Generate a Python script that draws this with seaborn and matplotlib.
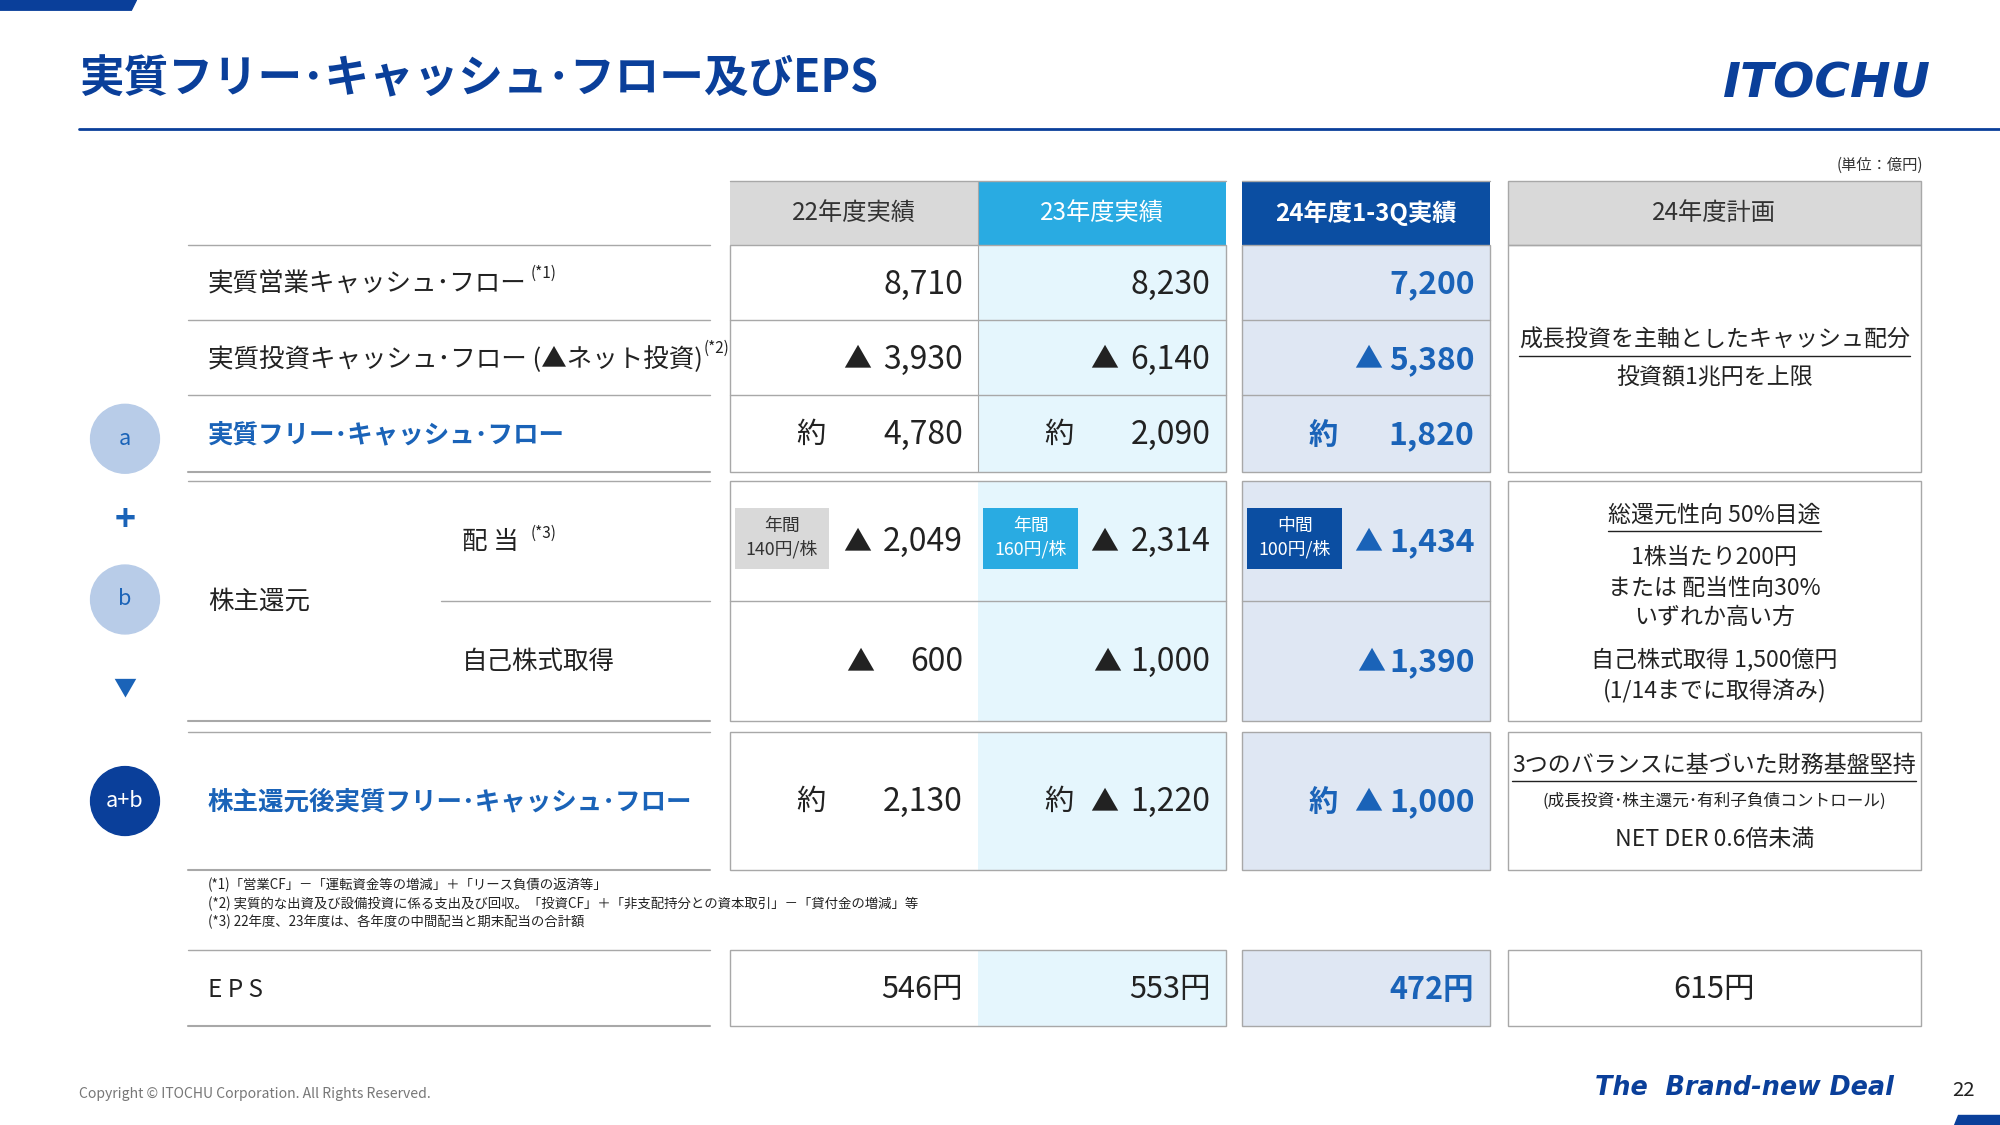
import matplotlib
matplotlib.use("Agg")
import matplotlib.pyplot as plt
from matplotlib.patches import Rectangle, Circle, Polygon
import seaborn as sns

sns.set_theme(style="white", font="Noto Sans CJK JP")

# ---------------- data ----------------
columns = ["22年度実績", "23年度実績", "24年度1-3Q実績"]
plan_header = "24年度計画"
op_cf = ["8,710", "8,230", "7,200"]
inv_cf = ["3,930", "6,140", "5,380"]
free_cf = ["4,780", "2,090", "1,820"]
dividend = ["2,049", "2,314", "1,434"]
div_tag_top = ["年間", "年間", "中間"]
div_tag_bot = ["140円/株", "160円/株", "100円/株"]
buyback = ["600", "1,000", "1,390"]
after_cf = ["2,130", "1,220", "1,000"]
after_neg = [False, True, True]
eps = ["546円", "553円", "472円"]
eps_plan = "615円"
row_labels = ["実質営業キャッシュ･フロー", "実質投資キャッシュ･フロー (▲ネット投資)", "実質フリー･キャッシュ･フロー"]
footnotes = ["(*1)「営業CF」－「運転資金等の増減」＋「リース負債の返済等」",
             "(*2) 実質的な出資及び設備投資に係る支出及び回収。「投資CF」＋「非支配持分との資本取引」－「貸付金の増減」等",
             "(*3) 22年度、23年度は、各年度の中間配当と期末配当の合計額"]

# ---------------- styling ----------------
W, H = 1568, 882
def fs(px): return px * 2000 / W * 0.72
NAVY = "#0a3f9a"
BLUE = "#1a63b8"
COLHDR = ["#d9d9d9", "#29abe2", "#0b4ea2"]
COLBG = ["#ffffff", "#e5f6fd", "#dfe7f3"]
HDRTXT = ["#333333", "#ffffff", "#ffffff"]
VALTXT = ["#222222", "#222222", BLUE]
TAGBG = ["#d9d9d9", "#29abe2", "#0b4ea2"]
TAGTXT = ["#333333", "#ffffff", "#ffffff"]
GRID = "#a8a8a8"

fig = plt.figure(figsize=(20, 11.25), dpi=100)
ax = fig.add_axes([0, 0, 1, 1])
ax.set_xlim(0, W); ax.set_ylim(H, 0); ax.axis("off")
renderer = fig.canvas.get_renderer()

def T(x, y, s, size, color="#222222", ha="left", weight="normal", **kw):
    return ax.text(x, y, s, fontsize=fs(size), color=color, ha=ha, va="center", fontweight=weight, **kw)

def right_end(t):
    bb = t.get_window_extent(renderer)
    return bb.x1 * W / 2000

def R(x0, y0, x1, y1, fc, ec="none", lw=1):
    ax.add_patch(Rectangle((x0, y0), x1 - x0, y1 - y0, facecolor=fc, edgecolor=ec, lw=lw))

# header decorations
ax.add_patch(Polygon([(0, 0), (107, 0), (103, 8), (0, 8)], color=NAVY))
ax.add_patch(Polygon([(1535, 874), (1568, 874), (1568, 882), (1532, 882)], color=NAVY))
T(62, 62, "実質フリー･キャッシュ･フロー及びEPS", 35, NAVY, weight="bold")
ax.plot([62, 1568], [101, 101], color=NAVY, lw=2)
T(1432, 66, "ITOCHU", 38, NAVY, ha="center", weight="heavy", style="italic", family="DejaVu Sans")
T(1508, 130, "(単位：億円)", 12, "#333333", ha="right")

colx = [(572, 767), (767, 961), (974, 1168)]
plan = (1182, 1506)
blocks = [(192, 370), (377, 565), (574, 682), (745, 804)]

for i, (x0, x1) in enumerate(colx):
    R(x0, 142, x1, 192, COLHDR[i])
    T((x0 + x1) / 2, 167, columns[i], 19, HDRTXT[i], ha="center", weight="bold" if i == 2 else "normal")
    for (y0, y1) in blocks:
        R(x0, y0, x1, y1, COLBG[i])
R(plan[0], 142, plan[1], 192, "#d9d9d9")
T((plan[0] + plan[1]) / 2, 167, plan_header, 19, "#333333", ha="center")

for (y0, y1) in blocks:
    for (x0, x1) in [(572, 961), (974, 1168), plan]:
        R(x0, y0, x1, y1, "none", GRID, 1)
for (x0, x1) in [(572, 961), (974, 1168)]:
    for y in [251, 310, 471]:
        ax.plot([x0, x1], [y, y], color=GRID, lw=1)
    ax.plot([x0, x1], [142, 142], color=GRID, lw=1)
ax.plot([767, 767], [142, 370], color=GRID, lw=0.8)
R(plan[0], 142, plan[1], 192, "none", GRID)
for y in [192, 251, 310, 370, 377, 565, 574, 682, 745, 804]:
    ax.plot([147, 557], [y, y], color=GRID, lw=1.5 if y in (370, 565, 682, 804) else 1)
ax.plot([346, 557], [471, 471], color=GRID, lw=1)

TRI = "▲"
t = T(163, 223, row_labels[0], 20)
T(right_end(t) + 3, 214, "(*1)", 12)
t = T(163, 282, row_labels[1], 20)
T(right_end(t) + 1, 273, "(*2)", 12)
T(163, 341, row_labels[2], 20, BLUE, weight="bold")
T(163, 472, "株主還元", 20)
T(362, 425, "配 当", 20)
T(416, 418, "(*3)", 12)
T(362, 519, "自己株式取得", 20)
T(163, 629, "株主還元後実質フリー･キャッシュ･フロー", 20, BLUE, weight="bold")
T(163, 776, "E P S", 19)

for y, lbl, fc, tc in [(344, "a", "#b8cce8", BLUE), (470, "b", "#b8cce8", BLUE), (628, "a+b", NAVY, "white")]:
    ax.add_patch(Circle((98, y), 27, color=fc))
    T(98, y, lbl, 17, tc, ha="center")
T(98, 408, "+", 28, BLUE, ha="center", weight="bold")
T(98, 540, "▼", 18, BLUE, ha="center")

for i, (x0, x1) in enumerate(colx):
    c = VALTXT[i]; w = "bold" if i == 2 else "normal"
    xr = x1 - 12
    T(xr, 223, op_cf[i], 25, c, ha="right", weight=w)
    T(xr, 282, inv_cf[i], 25, c, ha="right", weight=w)
    T(xr - 72, 282, TRI, 22, c, ha="right")
    T(x0 + 52, 341, "約", 23, c, weight=w)
    T(xr, 341, free_cf[i], 25, c, ha="right", weight=w)
    R(x0 + 4, 398, x0 + 78, 446, TAGBG[i])
    T(x0 + 41, 412, div_tag_top[i], 14, TAGTXT[i], ha="center")
    T(x0 + 41, 431, div_tag_bot[i], 14, TAGTXT[i], ha="center")
    T(xr, 425, dividend[i], 25, c, ha="right", weight=w)
    T(xr - 72, 425, TRI, 22, c, ha="right")
    T(xr, 519, buyback[i], 25, c, ha="right", weight=w)
    T(xr - 70, 519, TRI, 22, c, ha="right")
    T(x0 + 52, 629, "約", 23, c, weight=w)
    T(xr, 629, after_cf[i], 25, c, ha="right", weight=w)
    if after_neg[i]:
        T(xr - 72, 629, TRI, 22, c, ha="right")
    T(xr, 776, eps[i], 24, c, ha="right", weight=w)

px = (plan[0] + plan[1]) / 2
def UL(y, s, size):
    t = T(px, y, s, size, ha="center")
    bb = t.get_window_extent(renderer)
    ax.plot([bb.x0 * W / 2000, bb.x1 * W / 2000], [y + 12, y + 12], color="#222222", lw=1)
UL(267, "成長投資を主軸としたキャッシュ配分", 18)
T(px, 296, "投資額1兆円を上限", 18, ha="center")
UL(404, "総還元性向 50%目途", 18)
T(px, 437, "1株当たり200円", 18, ha="center")
T(px, 461, "または 配当性向30%", 18, ha="center")
T(px, 484, "いずれか高い方", 18, ha="center")
T(px, 517, "自己株式取得 1,500億円", 18, ha="center")
T(px, 541, "(1/14までに取得済み)", 18, ha="center")
UL(600, "3つのバランスに基づいた財務基盤堅持", 18)
T(px, 628, "(成長投資･株主還元･有利子負債コントロール)", 13, ha="center")
T(px, 658, "NET DER 0.6倍未満", 18, ha="center")
T(px, 776, eps_plan, 24, ha="center")

for k, s in enumerate(footnotes):
    T(163, 694 + k * 14.5, s, 10.5)

T(62, 858, "Copyright © ITOCHU Corporation. All Rights Reserved.", 11, "#777777")
T(1485, 853, "The  Brand-new Deal", 20, NAVY, ha="right", weight="bold", style="italic", family="DejaVu Sans")
T(1548, 855, "22", 16, "#222222", ha="right")

fig.savefig("out.png", dpi=100)
